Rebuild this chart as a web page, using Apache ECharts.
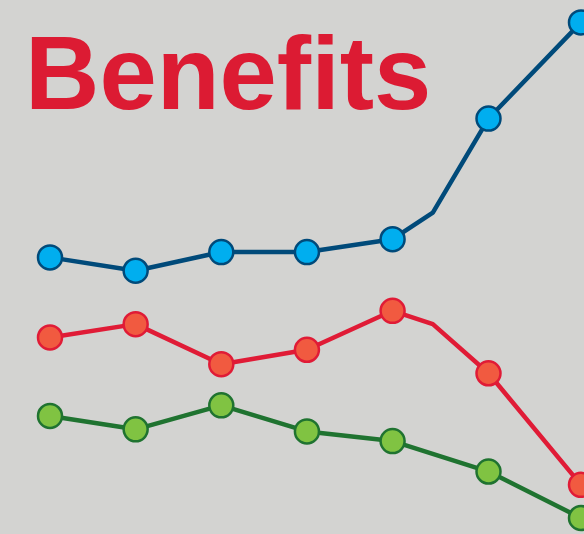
<!DOCTYPE html>
<html>
<head>
<meta charset="utf-8">
<script src="https://cdn.jsdelivr.net/npm/echarts@6/dist/echarts.min.js"></script>
<style>
html,body{margin:0;padding:0;background:#d3d3d1;}
#chart{width:584px;height:534px;}
</style>
</head>
<body>
<div id="chart"></div>
<script>
// x positions (arbitrary units); 5.47 is an unmarked bend point
const xBlue  = [1, 2, 3, 4, 5, 5.47, 6.12, 7.2];
const xRed   = [1, 2, 3, 4, 5, 5.47, 6.12, 7.2];
const xGreen = [1, 2, 3, 4, 5, 6.12, 7.2];
const blueValues  = [51.8, 49.3, 52.8, 52.8, 55.2, 60.2, 77.8, 95.8];
const redValues   = [36.8, 39.3, 31.8, 34.5, 41.8, 39.3, 30.1, 9.2];
const greenValues = [22.1, 19.6, 24.1, 19.2, 17.4, 11.7, 3.0];
const bendIndex = 5; // unmarked points for blue and red
const titleText = 'Benefits';

function build(xs, ys, bend) {
  return xs.map((x, i) => {
    const d = { value: [x, ys[i]] };
    if (i === bend) d.symbol = 'none';
    return d;
  });
}

const chart = echarts.init(document.getElementById('chart'), null, {renderer: 'canvas'});
const mk = (name, data, line, fill) => ({
  name, type: 'line', data,
  symbol: 'circle', symbolSize: 24,
  lineStyle: { color: line, width: 4.5 },
  itemStyle: { color: fill, borderColor: line, borderWidth: 2.5 },
  emphasis: { disabled: true },
  animation: false, z: 2
});
chart.setOption({
  backgroundColor: '#d3d3d1',
  title: {
    text: titleText, left: 20, top: 24,
    textStyle: { fontFamily: 'Liberation Sans, Arial, sans-serif', fontWeight: 'bold', fontSize: 103, color: '#dc1b33' }
  },
  grid: { left: 50, right: 3, top: 0, bottom: 0, containLabel: false },
  xAxis: { type: 'value', min: 1, max: 7.2, show: false },
  yAxis: { type: 'value', min: 0, max: 100, show: false },
  series: [
    mk('Blue', build(xBlue, blueValues, bendIndex), '#004a7a', '#00aeef'),
    mk('Red', build(xRed, redValues, bendIndex), '#e01b36', '#f15a40'),
    mk('Green', build(xGreen, greenValues, -1), '#1f7330', '#80c342')
  ]
});
</script>
</body>
</html>
